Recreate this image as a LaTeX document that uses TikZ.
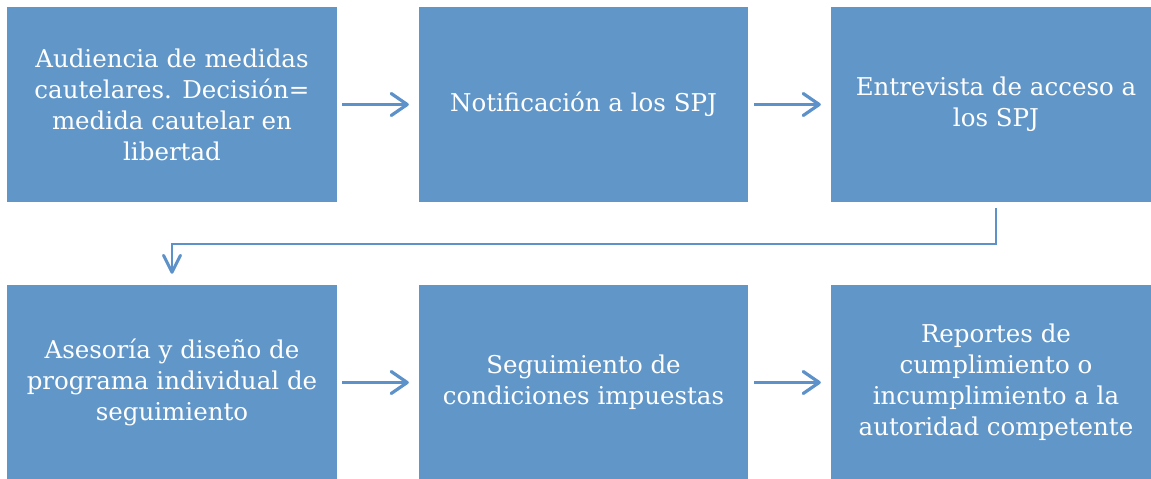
\documentclass[tikz,border=0pt]{standalone}
\usepackage{fontspec}
\setmainfont{DejaVu Serif}
\usetikzlibrary{arrows.meta}
\definecolor{boxblue}{HTML}{6196C9}
\definecolor{arrowblue}{HTML}{5D91C9}
\begin{document}
\begin{tikzpicture}[x=1pt,y=-1pt,
  stepbox/.style={fill=boxblue, draw=none, minimum width=330pt, minimum height=195pt,
    inner sep=0pt, text=white, align=center, font=\fontsize{24.5}{31}\selectfont},
  harrow/.style={draw=arrowblue, line width=3.2pt, -{Straight Barb[round,length=16pt,width=22pt]}},
  varrow/.style={draw=arrowblue, line width=2pt, -{Straight Barb[round,length=17pt,width=17pt,line width=3pt]}}]
\useasboundingbox (0,0) rectangle (1151,479);
\node[stepbox] (b1) at (172,104.5) {Audiencia de medidas\\cautelares. Decisión=\\medida cautelar en\\libertad};
\node[stepbox, minimum width=329pt] (b2) at (583.5,104.5) {Notificación a los SPJ};
\node[stepbox] (b3) at (996,104.5) {Entrevista de acceso a\\los SPJ};
\node[stepbox] (b4) at (172,382.5) {Asesoría y diseño de\\programa individual de\\seguimiento};
\node[stepbox, minimum width=329pt] (b5) at (583.5,382.5) {Seguimiento de\\condiciones impuestas};
\node[stepbox] (b6) at (996,382.5) {Reportes de\\cumplimiento o\\incumplimiento a la\\autoridad competente};
\draw[harrow] ([xshift=5pt]b1.east) -- ([xshift=-10pt]b2.west);
\draw[harrow] ([xshift=6pt]b2.east) -- ([xshift=-10pt]b3.west);
\draw[harrow] ([xshift=5pt]b4.east) -- ([xshift=-10pt]b5.west);
\draw[harrow] ([xshift=6pt]b5.east) -- ([xshift=-10pt]b6.west);
\coordinate (bend) at ([yshift=41pt]b4.north);
\draw[varrow] ([yshift=-6pt]b3.south) |- (bend) -- ([yshift=11pt]b4.north);
\end{tikzpicture}
\end{document}
